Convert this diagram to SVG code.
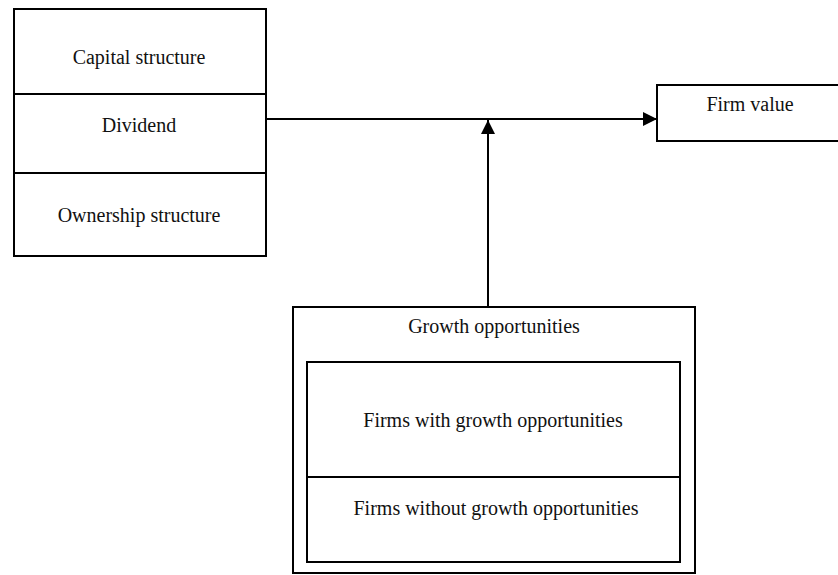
<svg xmlns="http://www.w3.org/2000/svg" width="838" height="575" viewBox="0 0 838 575">
<style>
.box{fill:#fff;stroke:#000;stroke-width:2}
.ln{stroke:#000;stroke-width:2;fill:none}
text{font-family:"Liberation Serif","Times New Roman",serif;font-size:20px;fill:#111;text-anchor:middle}
</style>
<defs>
<marker id="ah" markerWidth="14" markerHeight="14" refX="14" refY="7" orient="auto" markerUnits="userSpaceOnUse">
<path d="M0,0 L14,7 L0,14 Z" fill="#000"/>
</marker>
</defs>
<rect width="838" height="575" fill="#fff"/>
<g id="left-box">
<rect class="box" x="14" y="9" width="252" height="247"/>
<line class="ln" x1="14" y1="94" x2="266" y2="94"/>
<line class="ln" x1="14" y1="173" x2="266" y2="173"/>
<text x="139" y="64">Capital structure</text>
<text x="139" y="132">Dividend</text>
<text x="139" y="222">Ownership structure</text>
</g>
<g id="firm-value">
<rect class="box" x="657" y="85" width="190" height="56"/>
<text x="750" y="111">Firm value</text>
</g>
<g id="growth">
<rect class="box" x="293" y="307" width="402" height="266"/>
<text x="494" y="333">Growth opportunities</text>
<rect class="box" x="307" y="362" width="373" height="200"/>
<line class="ln" x1="307" y1="477" x2="680" y2="477"/>
<text x="493" y="427">Firms with growth opportunities</text>
<text x="496" y="515">Firms without growth opportunities</text>
</g>
<g id="connectors">
<line class="ln" x1="266" y1="119" x2="657" y2="119" marker-end="url(#ah)"/>
<line class="ln" x1="488" y1="306" x2="488" y2="120" marker-end="url(#ah)"/>
</g>
</svg>
